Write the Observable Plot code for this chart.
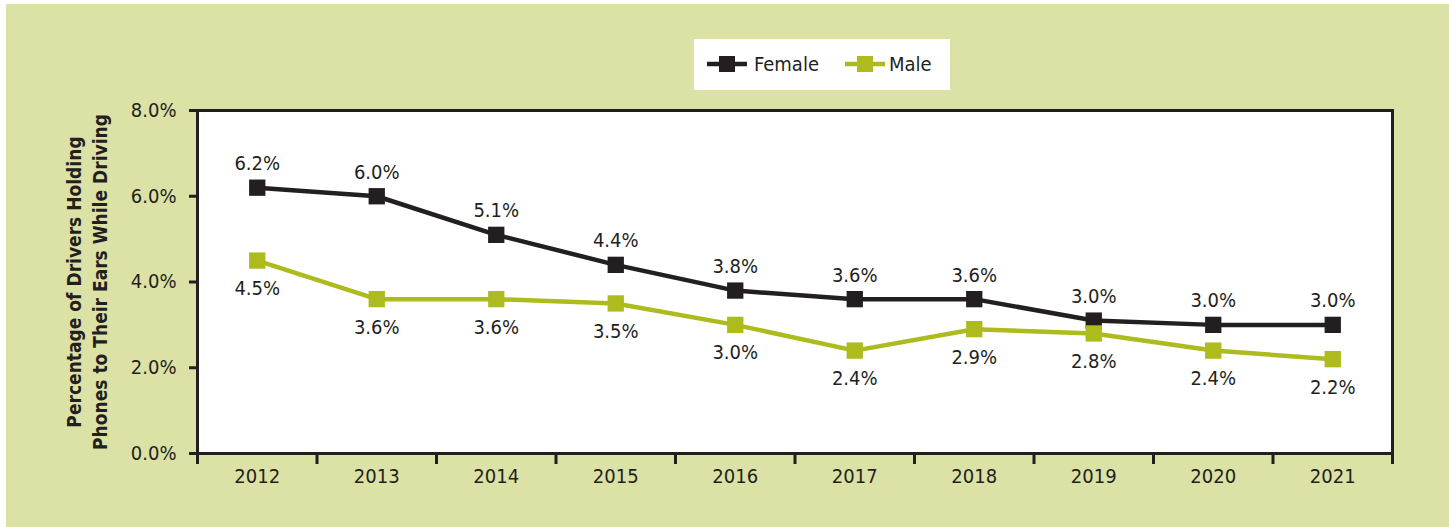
<!DOCTYPE html>
<html>
<head>
<meta charset="utf-8">
<script src="https://cdn.jsdelivr.net/npm/d3@7"></script>
<script src="https://cdn.jsdelivr.net/npm/@observablehq/plot@0.6"></script>
<style>
  html, body { margin: 0; padding: 0; background: #ffffff; }
  #wrap { position: relative; width: 1449px; height: 527px; overflow: hidden; background: #ffffff; }
  #bg { position: absolute; left: 6px; top: 4px; right: 0; bottom: 0; background: #dce1a5; }
  #chart { position: absolute; left: 0; top: 0; }
  #legend { position: absolute; left: 694px; top: 39px; width: 256px; height: 51px; background: #ffffff; }
  #legend svg { display: block; }
</style>
</head>
<body>
<div id="wrap">
  <div id="bg"></div>
  <div id="chart"></div>
  <div id="legend"></div>
</div>
<script>
const years = [2012, 2013, 2014, 2015, 2016, 2017, 2018, 2019, 2020, 2021];
const femaleValues = [6.2, 6.0, 5.1, 4.4, 3.8, 3.6, 3.6, 3.1, 3.0, 3.0];
const femaleLabels = ["6.2%", "6.0%", "5.1%", "4.4%", "3.8%", "3.6%", "3.6%", "3.0%", "3.0%", "3.0%"];
const maleValues = [4.5, 3.6, 3.6, 3.5, 3.0, 2.4, 2.9, 2.8, 2.4, 2.2];
const maleLabels = ["4.5%", "3.6%", "3.6%", "3.5%", "3.0%", "2.4%", "2.9%", "2.8%", "2.4%", "2.2%"];
const yTicks = [0, 2, 4, 6, 8];
const seriesNames = ["Female", "Male"];
const seriesColors = ["#231f20", "#adbb1f"];
const yTitle = "Percentage of Drivers Holding\nPhones to Their Ears While Driving";

const female = years.map((year, i) => ({year, value: femaleValues[i], label: femaleLabels[i]}));
const male = years.map((year, i) => ({year, value: maleValues[i], label: maleLabels[i]}));
const boundaries = [...years.map(y => y - 0.5), years[years.length - 1] + 0.5];

const FONT = '"DejaVu Sans Condensed", "Liberation Sans Narrow", "Liberation Sans", sans-serif';
const ink = "#231f20";
const FS = 20;

const chart = Plot.plot({
  width: 1449,
  height: 527,
  marginLeft: 197,
  marginRight: 57,
  marginTop: 110,
  marginBottom: 74,
  style: {background: "transparent", fontFamily: FONT, fontSize: FS + "px", color: ink},
  x: {domain: [boundaries[0], boundaries[boundaries.length - 1]], axis: null, label: null},
  y: {domain: [0, 8], axis: null, label: null},
  marks: [
    Plot.frame({fill: "#ffffff", stroke: null}),
    Plot.axisX({ticks: boundaries, tickSize: 11, tickFormat: () => "", label: null, stroke: ink, strokeWidth: 3, strokeOpacity: 1}),
    Plot.axisX({ticks: years, tickSize: 0, tickPadding: 15, tickFormat: d => String(d), label: null, fill: ink, fontSize: FS}),
    Plot.axisY({ticks: yTicks, tickSize: 8, tickPadding: 13, tickFormat: d => d.toFixed(1) + "%", label: null, stroke: ink, strokeWidth: 3, strokeOpacity: 1, fill: ink, fontSize: FS}),
    Plot.frame({stroke: ink, strokeWidth: 3}),
    Plot.line(female, {x: "year", y: "value", stroke: seriesColors[0], strokeWidth: 4.5}),
    Plot.line(male, {x: "year", y: "value", stroke: seriesColors[1], strokeWidth: 4.5}),
    Plot.dot(female, {x: "year", y: "value", symbol: "square", r: 9.2, fill: seriesColors[0], stroke: null}),
    Plot.dot(male, {x: "year", y: "value", symbol: "square", r: 9.2, fill: seriesColors[1], stroke: null}),
    Plot.text(female, {x: "year", y: "value", text: "label", dy: -24, fill: ink, fontSize: FS}),
    Plot.text(male, {x: "year", y: "value", text: "label", dy: 28, fill: ink, fontSize: FS}),
    Plot.text([yTitle], {frameAnchor: "left", rotate: -90, dx: -112, text: d => d, fill: ink, fontSize: 19, fontWeight: "bold", lineHeight: 1.35, textAnchor: "middle", lineAnchor: "middle"})
  ]
});
document.getElementById("chart").appendChild(chart);

// Legend (HTML/SVG, outside the plot)
const lg = d3.select("#legend").append("svg").attr("width", 256).attr("height", 51);
const items = [
  {name: seriesNames[0], color: seriesColors[0], x0: 13, tx: 60},
  {name: seriesNames[1], color: seriesColors[1], x0: 151, tx: 195}
];
items.forEach(it => {
  lg.append("line").attr("x1", it.x0).attr("x2", it.x0 + 40).attr("y1", 25).attr("y2", 25)
    .attr("stroke", it.color).attr("stroke-width", 4.5);
  lg.append("rect").attr("x", it.x0 + 12).attr("y", 17).attr("width", 16).attr("height", 16).attr("fill", it.color);
  lg.append("text").attr("x", it.tx).attr("y", 25).attr("dy", "0.35em")
    .attr("font-family", FONT).attr("font-size", FS).attr("fill", ink).text(it.name);
});
</script>
</body>
</html>
